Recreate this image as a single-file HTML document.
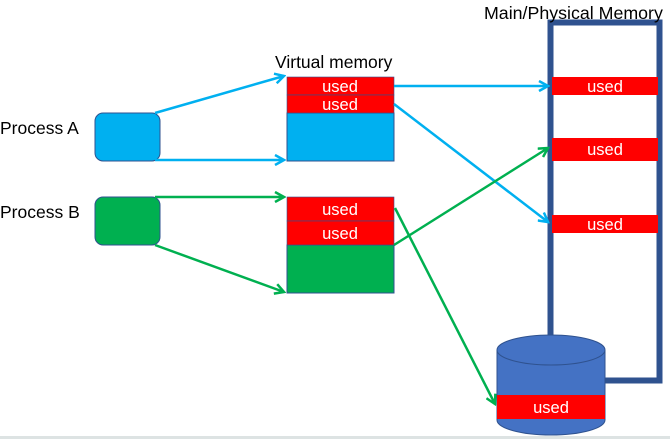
<!DOCTYPE html>
<html><head><style>body{margin:0;background:#fff}svg{display:block}</style></head><body>
<svg width="670" height="440" viewBox="0 0 670 440" xmlns="http://www.w3.org/2000/svg" font-family="Liberation Sans, sans-serif">
<defs>
<marker id="ab" markerWidth="12" markerHeight="12" refX="10" refY="6" orient="auto" markerUnits="userSpaceOnUse"><path d="M1,1 L10,6 L1,11" fill="none" stroke="#00B0F0" stroke-width="2.5"/></marker>
<marker id="ag" markerWidth="12" markerHeight="12" refX="10" refY="6" orient="auto" markerUnits="userSpaceOnUse"><path d="M1,1 L10,6 L1,11" fill="none" stroke="#00B050" stroke-width="2.5"/></marker>
</defs>
<line x1="0" y1="437.5" x2="670" y2="437.5" stroke="#dde3e3" stroke-width="3"/>
<path d="M550.5,335 V22.5 H659.5 V380.5 H605" fill="none" stroke="#2F528F" stroke-width="6"/>
<text x="484" y="19" font-size="17.8">Main/Physical Memory</text>
<rect x="552" y="77" width="106" height="18" fill="#f00"/><text x="605" y="92" font-size="16.5" fill="#fff" text-anchor="middle">used</text>
<rect x="552" y="138" width="106" height="23" fill="#f00"/><text x="605" y="155" font-size="16.5" fill="#fff" text-anchor="middle">used</text>
<rect x="552" y="215" width="106" height="18" fill="#f00"/><text x="605" y="230" font-size="16.5" fill="#fff" text-anchor="middle">used</text>
<path d="M497,350 V420 A54,15 0 0 0 605,420 V350" fill="#4472C4" stroke="#2F528F"/>
<rect x="497" y="395" width="108" height="24" fill="#f00"/>
<text x="551" y="413" font-size="16.5" fill="#fff" text-anchor="middle">used</text>
<ellipse cx="551" cy="350" rx="54" ry="15" fill="#4472C4" stroke="#2F528F"/>
<text x="275" y="68" font-size="17.5">Virtual memory</text>
<rect x="287" y="113" width="107" height="48" fill="#00B0F0" stroke="#2F528F"/>
<rect x="287" y="77" width="107" height="18" fill="#f00" stroke="#2F528F" stroke-width="0.6"/>
<rect x="287" y="95" width="107" height="18" fill="#f00" stroke="#2F528F" stroke-width="0.6"/>
<text x="340" y="92" font-size="16.5" fill="#fff" text-anchor="middle">used</text>
<text x="340" y="110" font-size="16.5" fill="#fff" text-anchor="middle">used</text>
<rect x="287" y="245" width="107" height="48" fill="#00B050" stroke="#2F528F"/>
<rect x="287" y="197" width="107" height="24" fill="#f00" stroke="#2F528F" stroke-width="0.6"/>
<rect x="287" y="221" width="107" height="24" fill="#f00" stroke="#2F528F" stroke-width="0.6"/>
<text x="340" y="215" font-size="16.5" fill="#fff" text-anchor="middle">used</text>
<text x="340" y="239" font-size="16.5" fill="#fff" text-anchor="middle">used</text>
<text x="0" y="134" font-size="17.5">Process A</text>
<text x="0" y="218" font-size="17.5">Process B</text>
<rect x="95" y="113" width="65" height="48" rx="8" fill="#00B0F0" stroke="#2F528F"/>
<rect x="95" y="197" width="65" height="48" rx="8" fill="#00B050" stroke="#2F528F"/>
<g stroke-width="2.5" fill="none">
<line x1="155" y1="113" x2="284" y2="76" stroke="#00B0F0" marker-end="url(#ab)"/>
<line x1="155" y1="160" x2="284" y2="160" stroke="#00B0F0" marker-end="url(#ab)"/>
<line x1="394" y1="86" x2="548" y2="86" stroke="#00B0F0" marker-end="url(#ab)"/>
<line x1="394" y1="104" x2="548" y2="222" stroke="#00B0F0" marker-end="url(#ab)"/>
<line x1="155" y1="197" x2="284" y2="197" stroke="#00B050" marker-end="url(#ag)"/>
<line x1="155" y1="245" x2="284" y2="292" stroke="#00B050" marker-end="url(#ag)"/>
<line x1="394" y1="245" x2="548" y2="148" stroke="#00B050" marker-end="url(#ag)"/>
<line x1="395" y1="208" x2="495" y2="404" stroke="#00B050" marker-end="url(#ag)"/>
</g>
</svg>
</body></html>
